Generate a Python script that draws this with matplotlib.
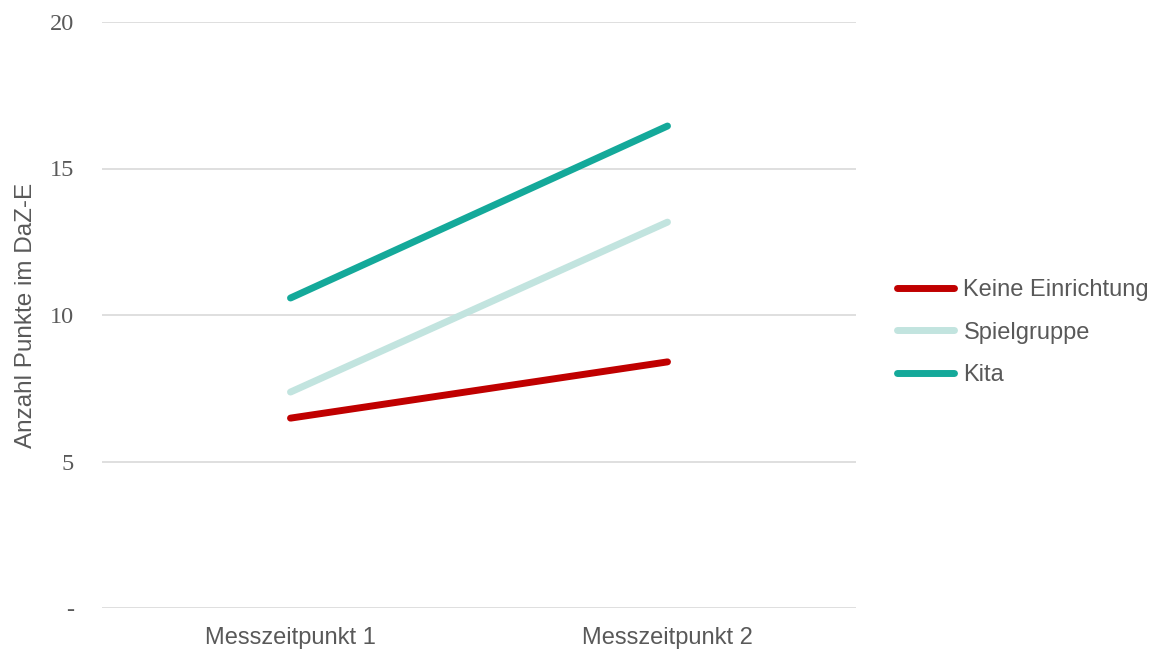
import matplotlib
matplotlib.use("Agg")
import matplotlib.pyplot as plt

categories = ["Messzeitpunkt 1", "Messzeitpunkt 2"]
series_names = ["Keine Einrichtung", "Spielgruppe", "Kita"]
keine = [6.48, 8.40]
spiel = [7.37, 13.17]
kita = [10.58, 16.45]
yticks = [0, 5, 10, 15, 20]
ytick_labels = ["-", "5", "10", "15", "20"]

colors = ["#C00000", "#C2E4DF", "#14A99A"]
text_color = "#595959"

fig = plt.figure(figsize=(11.56, 6.53), dpi=100)
ax = fig.add_axes([102/1156, (653-608)/653, (856-102)/1156, (608-22)/653])

x = list(range(len(categories)))
for name, vals, c in zip(series_names, [keine, spiel, kita], colors):
    ax.plot(x, vals, color=c, lw=5, solid_capstyle="round", label=name, zorder=3)

ax.set_xlim(-0.5, 1.5)
ax.set_ylim(0, 20)
ax.set_yticks(yticks)
ax.set_yticklabels(ytick_labels, fontfamily="Liberation Serif", fontsize=17.5, color=text_color)
ax.set_xticks(x)
ax.set_xticklabels(categories, fontfamily="Liberation Sans", fontsize=17, color=text_color)
ax.tick_params(axis="y", length=0, pad=20)
ax.tick_params(axis="x", length=0, pad=14)
ax.yaxis.grid(True, color="#D9D9D9", lw=1.2)
ax.set_axisbelow(True)
for s in ax.spines.values():
    s.set_visible(False)
ax.set_ylabel("Anzahl Punkte im DaZ-E", fontfamily="Liberation Sans", fontsize=17.5, color=text_color, labelpad=9)

leg = ax.legend(loc="center left", bbox_to_anchor=(1.026, 0.47), frameon=False,
                prop={"family": "Liberation Sans", "size": 17}, handlelength=2.4,
                handletextpad=0.42, labelspacing=0.86)
for t in leg.get_texts():
    t.set_color(text_color)

fig.savefig("out.png", dpi=100)
